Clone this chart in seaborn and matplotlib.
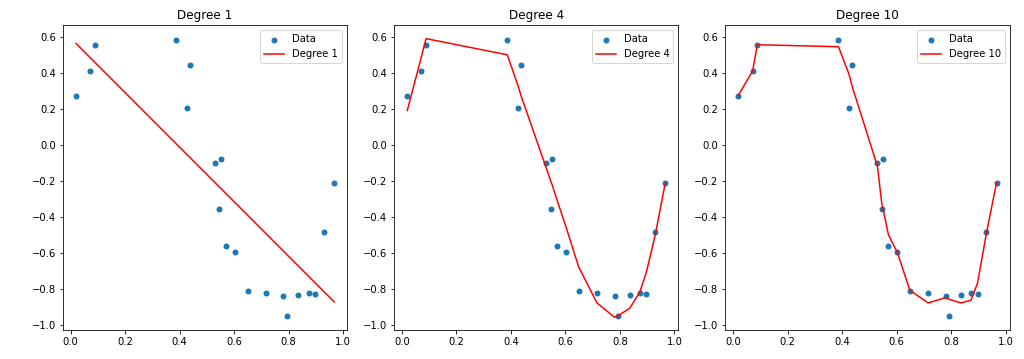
import matplotlib
matplotlib.use("Agg")
import matplotlib.pyplot as plt
import numpy as np
import pandas as pd
import seaborn as sns

# data points
x_data = [0.020, 0.072, 0.089, 0.387, 0.426, 0.438, 0.530, 0.546, 0.551, 0.570,
          0.603, 0.649, 0.716, 0.781, 0.794, 0.836, 0.873, 0.897, 0.930, 0.967]
y_data = [0.273, 0.408, 0.552, 0.580, 0.206, 0.445, -0.099, -0.356, -0.079, -0.564,
          -0.599, -0.815, -0.826, -0.843, -0.954, -0.834, -0.824, -0.832, -0.488, -0.212]

# fitted curves, evaluated at the sorted data x
x_fit1 = [0.020, 0.967]
y_fit1 = [0.563, -0.874]

y_fit4 = [0.19, 0.49, 0.59, 0.50, 0.33, 0.27, -0.13, -0.20, -0.22, -0.31,
          -0.46, -0.68, -0.88, -0.96, -0.95, -0.91, -0.82, -0.71, -0.50, -0.21]

y_fit10 = [0.276, 0.41, 0.556, 0.545, 0.39, 0.32, -0.12, -0.33, -0.36, -0.50,
           -0.60, -0.81, -0.88, -0.85, -0.86, -0.88, -0.865, -0.77, -0.49, -0.21]

degrees = [1, 4, 10]
fits = [(x_fit1, y_fit1), (x_data, y_fit4), (x_data, y_fit10)]

# rendered at 72 dpi so default font / marker sizes match the reference
fig, axes = plt.subplots(1, 3, figsize=(1024 / 72, 359 / 72), dpi=72)
fig.subplots_adjust(left=0.0615, right=0.986, top=0.930, bottom=0.081, wspace=0.165)

for ax, deg, (xf, yf) in zip(axes, degrees, fits):
    sns.scatterplot(x=x_data, y=y_data, ax=ax, color="#1f77b4", s=36,
                    linewidth=0, label="Data")
    sns.lineplot(x=xf, y=yf, ax=ax, color="red", label=f"Degree {deg}", sort=False)
    ax.set_title(f"Degree {deg}")
    ax.set_xticks([0.0, 0.2, 0.4, 0.6, 0.8, 1.0])
    ax.set_yticks([-1.0, -0.8, -0.6, -0.4, -0.2, 0.0, 0.2, 0.4, 0.6])
    ax.set_xlim(-0.028, 1.015)
    ax.set_ylim(-1.03, 0.665)
    ax.legend(loc="upper right")

fig.savefig("out.png", dpi=72)
